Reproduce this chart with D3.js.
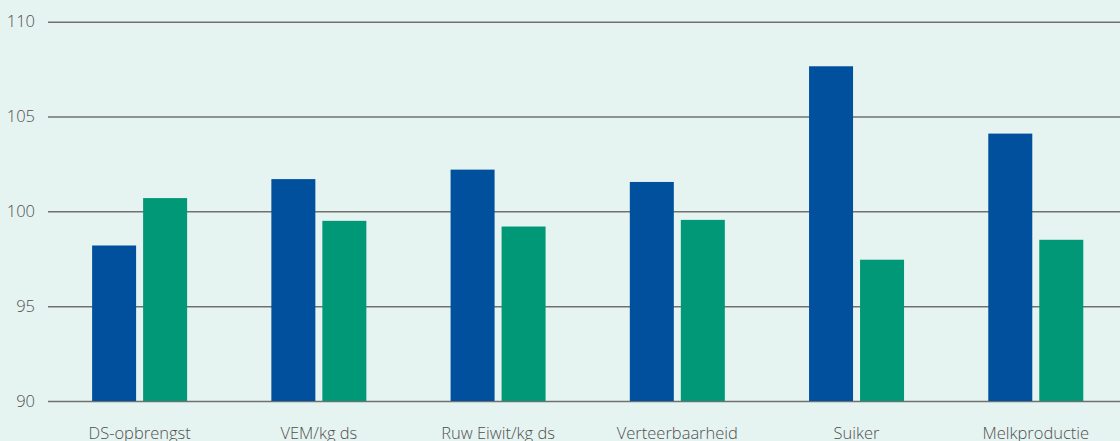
<!DOCTYPE html>
<html>
<head>
<meta charset="utf-8">
<script src="https://cdn.jsdelivr.net/npm/d3@7"></script>
<style>
  html, body { margin: 0; padding: 0; background: #e6f4f1; overflow: hidden; }
  svg { display: block; }
  .tick text { font-family: "Open Sans", "Noto Sans", sans-serif; font-weight: 300; fill: #505050; }
</style>
</head>
<body>
<svg width="1120" height="441"></svg>
<script>
// Chart data
const categories = ["DS-opbrengst", "VEM/kg ds", "Ruw Eiwit/kg ds", "Verteerbaarheid", "Suiker", "Melkproductie"];
const seriesBlue = [98.2, 101.7, 102.2, 101.55, 107.65, 104.1];
const seriesGreen = [100.7, 99.5, 99.2, 99.55, 97.45, 98.5];
const yTicks = [90, 95, 100, 105, 110];

const svg = d3.select("svg");

// scales
const x = d3.scaleBand().domain(categories).range([50, 1125.4]).paddingInner(0).paddingOuter(0);
const y = d3.scaleLinear().domain([90, 110]).range([401, 21.7]);

// horizontal grid lines with y labels
svg.append("g")
  .attr("transform", "translate(48,0)")
  .call(d3.axisLeft(y).tickValues(yTicks).tickSize(-1072).tickPadding(13).tickFormat(d3.format("d")))
  .call(g => g.select(".domain").remove())
  .call(g => g.selectAll(".tick line").attr("stroke", "#707070").attr("stroke-width", 1.5))
  .call(g => g.selectAll(".tick text").attr("font-size", "16.5px"));

// bars
const barW = 44, gap = 7;
const groups = svg.append("g").selectAll("g")
  .data(categories)
  .enter().append("g")
  .attr("transform", d => "translate(" + (x(d) + x.bandwidth() / 2) + ",0)");

groups.append("rect")
  .attr("x", -barW - gap / 2)
  .attr("y", (d, i) => y(seriesBlue[i]))
  .attr("width", barW)
  .attr("height", (d, i) => y(90) - y(seriesBlue[i]))
  .attr("fill", "#00509d");

groups.append("rect")
  .attr("x", gap / 2)
  .attr("y", (d, i) => y(seriesGreen[i]))
  .attr("width", barW)
  .attr("height", (d, i) => y(90) - y(seriesGreen[i]))
  .attr("fill", "#009877");

// category labels (cut off at the bottom like the original)
svg.append("g")
  .attr("transform", "translate(0,401)")
  .call(d3.axisBottom(x).tickSize(0).tickPadding(26))
  .call(g => g.select(".domain").remove())
  .call(g => g.selectAll(".tick text").attr("font-size", "16.5px"));
</script>
</body>
</html>
